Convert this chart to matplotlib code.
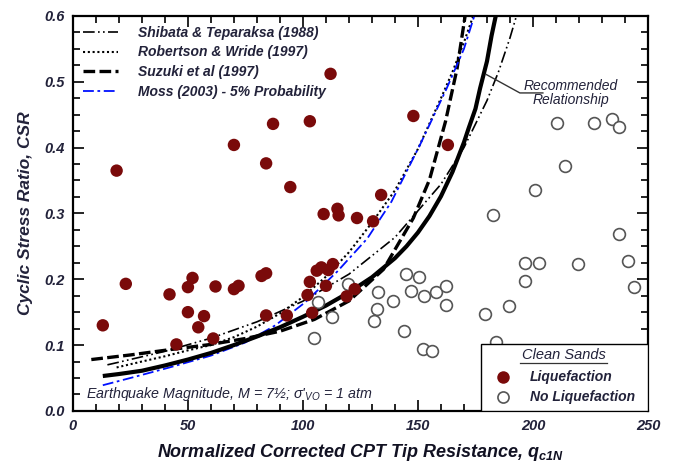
import matplotlib
matplotlib.use("Agg")
import matplotlib.pyplot as plt
from matplotlib.patches import Rectangle

plt.rcParams['font.family'] = ['Liberation Sans', 'DejaVu Sans']
plt.rcParams['mathtext.fontset'] = 'custom'
plt.rcParams['mathtext.rm'] = 'Liberation Sans'
plt.rcParams['mathtext.it'] = 'Liberation Sans:italic'
plt.rcParams['mathtext.bf'] = 'Liberation Sans:bold:italic'

# Case histories (q_c1N, CSR)
liq_q = [13, 19, 23, 42, 45, 50, 50, 52, 54.5, 57, 61, 62, 70, 72, 82, 84, 84, 94.5, 84, 93,
         102, 103, 104, 106, 108, 111, 113, 110, 109, 115, 115.5, 123.5, 119, 122.5, 134, 130.5,
         112, 87, 103, 70, 148, 163]
liq_csr = [0.130, 0.365, 0.193, 0.177, 0.101, 0.150, 0.188, 0.202, 0.127, 0.144, 0.110, 0.189,
           0.185, 0.190, 0.205, 0.209, 0.376, 0.340, 0.145, 0.145, 0.176, 0.196, 0.149, 0.213,
           0.218, 0.214, 0.223, 0.190, 0.299, 0.307, 0.297, 0.293, 0.174, 0.185, 0.328, 0.288,
           0.512, 0.436, 0.440, 0.404, 0.448, 0.404]

noliq_q = [214, 201, 182.5, 237.5, 196.5, 202.5, 219.5, 241.5, 196.5, 244, 189.5, 179, 184,
           145, 150.5, 132.5, 147, 139, 152.5, 158, 162, 162, 132, 131, 144, 152, 156,
           119.5, 106.5, 112.5, 105, 210.5, 226.5, 234.5, 237.5]
noliq_csr = [0.372, 0.335, 0.297, 0.269, 0.224, 0.224, 0.223, 0.227, 0.198, 0.188, 0.159, 0.147,
             0.104, 0.208, 0.203, 0.181, 0.182, 0.167, 0.174, 0.181, 0.190, 0.161, 0.155, 0.137,
             0.121, 0.094, 0.091, 0.193, 0.165, 0.142, 0.111, 0.437, 0.437, 0.443, 0.432]

# CRR curves
shibata_q = [15, 20, 40, 60, 80, 100, 120, 140, 160, 170, 180, 185, 190, 194]
shibata_csr = [0.070, 0.074, 0.0905, 0.1105, 0.1353, 0.1667, 0.2077, 0.2636, 0.3444, 0.400,
               0.4714, 0.515, 0.5667, 0.614]

rw_q = [19, 30, 40, 50, 60, 70, 80, 90, 100, 110, 120, 130, 140, 150, 160, 165, 170, 174]
rw_csr = [0.066, 0.075, 0.083, 0.092, 0.100, 0.112, 0.128, 0.148, 0.173, 0.204, 0.241, 0.286,
          0.335, 0.398, 0.475, 0.515, 0.560, 0.600]

suzuki_q = [8, 25, 42, 60, 75, 90, 105, 120, 135, 148, 155, 162, 167, 170.5]
suzuki_csr = [0.078, 0.085, 0.093, 0.101, 0.110, 0.121, 0.139, 0.167, 0.215, 0.293, 0.351,
              0.440, 0.520, 0.600]

moss_q = [13, 25, 42, 60, 75, 88, 101, 115, 128, 138.5, 151, 162.5, 170, 174.5]
moss_csr = [0.039, 0.050, 0.066, 0.084, 0.104, 0.130, 0.165, 0.212, 0.262, 0.318, 0.405,
            0.490, 0.550, 0.600]

rec_q = [13, 20, 30, 40, 50, 60, 70, 80, 90, 100, 110, 120, 130, 140, 145, 150, 155, 160,
         165, 170, 172, 175, 177, 180, 182, 184, 186]
rec_csr = [0.053, 0.056, 0.061, 0.069, 0.078, 0.088, 0.100, 0.113, 0.127, 0.143, 0.160, 0.180,
           0.203, 0.232, 0.250, 0.271, 0.296, 0.326, 0.363, 0.408, 0.429, 0.459, 0.490, 0.531,
           0.570, 0.603, 0.651]

txt = '#22223a'
liq_color = '#7a0a0a'

fig = plt.figure(figsize=(6.75, 4.68), dpi=100)
ax = fig.add_axes([0.108, 0.122, 0.852, 0.844])

ax.plot(shibata_q, shibata_csr, color='black', lw=1.2, dashes=(7, 2, 1, 2, 1, 2),
        label='Shibata & Teparaksa (1988)', zorder=3)
ax.plot(rw_q, rw_csr, color='black', lw=1.5, dashes=(1, 1.3),
        label='Robertson & Wride (1997)', zorder=3)
ax.plot(suzuki_q, suzuki_csr, color='black', lw=2.4, dashes=(3.5, 1.3),
        label='Suzuki et al (1997)', zorder=3)
ax.plot(moss_q, moss_csr, color='#0010ff', lw=1.3, dashes=(6, 2, 1.5, 2),
        label='Moss (2003) - 5% Probability', zorder=3)
ax.plot(rec_q, rec_csr, color='black', lw=3.0, solid_capstyle='butt', zorder=4)

ax.scatter(noliq_q, noliq_csr, s=72, facecolor='white', edgecolor='#555555', lw=1.2, zorder=5)
ax.scatter(liq_q, liq_csr, s=80, color=liq_color, edgecolor='none', zorder=6)

ax.set_xlim(0, 250)
ax.set_ylim(0, 0.6)
ax.set_xticks([0, 50, 100, 150, 200, 250])
ax.set_yticks([0, 0.1, 0.2, 0.3, 0.4, 0.5, 0.6])
ax.set_yticklabels(['0.0', '0.1', '0.2', '0.3', '0.4', '0.5', '0.6'])
ax.set_xticks(range(0, 251, 10), minor=True)
ax.set_yticks([i * 0.025 for i in range(25)], minor=True)
ax.tick_params(which='both', direction='in', top=True, right=True, width=1.2,
               labelsize=10.5, labelcolor=txt)
ax.tick_params(which='major', length=8, pad=6)
ax.tick_params(which='minor', length=5)
for lab in ax.get_xticklabels() + ax.get_yticklabels():
    lab.set_fontweight('bold')
    lab.set_fontstyle('italic')
for sp in ax.spines.values():
    sp.set_linewidth(1.6)

ax.set_xlabel('Normalized Corrected CPT Tip Resistance, q$_{\\mathbf{c1N}}$',
              fontsize=13, fontweight='bold', fontstyle='italic', color='#111122', labelpad=6)
ax.set_ylabel('Cyclic Stress Ratio, CSR', fontsize=12.5, fontweight='bold',
              fontstyle='italic', color=txt, labelpad=8)

leg = ax.legend(loc='upper left', bbox_to_anchor=(0.0, 1.0), frameon=False, handlelength=2.5,
                handletextpad=1.45, labelspacing=0.4, borderaxespad=0.3, borderpad=0.42,
                prop={'weight': 'bold', 'style': 'italic', 'size': 10}, labelcolor=txt)

# recommended relationship label with leader line
ax.plot([179.7, 194.3, 204.3], [0.511, 0.483, 0.483], color='#333333', lw=1.0, zorder=4)
ax.text(216.5, 0.494, 'Recommended', ha='center', va='center', fontsize=10,
        fontstyle='italic', color=txt)
ax.text(216.5, 0.472, 'Relationship', ha='center', va='center', fontsize=10,
        fontstyle='italic', color=txt)

ax.text(0.022, 0.043, "Earthquake Magnitude, M = 7\u00bd; \u03c3'$_{\\mathregular{VO}}$ = 1 atm",
        transform=ax.transAxes, fontsize=10.3, fontstyle='italic', color=txt, va='center')

# clean sands key
ax.add_patch(Rectangle((0.7096, 0.0), 0.2904, 0.17, transform=ax.transAxes,
                       facecolor='white', edgecolor='black', lw=1.0, zorder=7))
ax.text(0.853, 0.142, 'Clean Sands', transform=ax.transAxes, ha='center', va='center',
        fontsize=10.5, fontstyle='italic', color=txt, zorder=8)
ax.plot([0.777, 0.929], [0.122, 0.122], transform=ax.transAxes, color='#333333', lw=0.9,
        zorder=8)
ax.plot([0.748], [0.086], 'o', ms=9, color=liq_color, mec='none', transform=ax.transAxes,
        zorder=8)
ax.plot([0.748], [0.035], 'o', ms=8, mfc='white', mec='#555555', mew=1.2,
        transform=ax.transAxes, zorder=8)
ax.text(0.795, 0.086, 'Liquefaction', transform=ax.transAxes, va='center', fontsize=10,
        fontweight='bold', fontstyle='italic', color=txt, zorder=8)
ax.text(0.795, 0.035, 'No Liquefaction', transform=ax.transAxes, va='center', fontsize=10,
        fontweight='bold', fontstyle='italic', color=txt, zorder=8)

fig.savefig('out.png', dpi=100)
